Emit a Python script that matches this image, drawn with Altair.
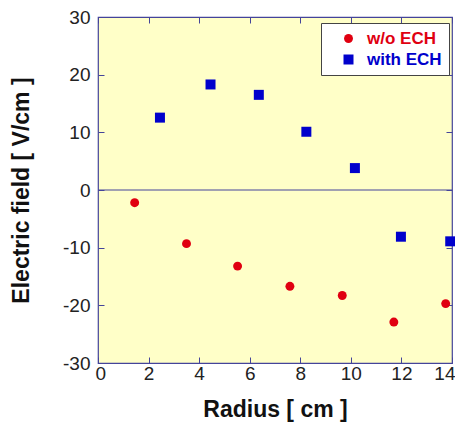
import altair as alt
import pandas as pd

series_names = ["w/o ECH", "with ECH"]
r_wo = [1.45, 3.5, 5.52, 7.59, 9.66, 11.7, 13.75]
e_wo = [-2.2, -9.3, -13.2, -16.7, -18.3, -22.9, -19.7]
r_with = [2.45, 4.45, 6.36, 8.24, 10.16, 11.98, 13.93]
e_with = [12.55, 18.3, 16.5, 10.1, 3.8, -8.1, -8.9]
x_ticks = [0, 2, 4, 6, 8, 10, 12, 14]
y_ticks = [-30, -20, -10, 0, 10, 20, 30]

df = pd.DataFrame({
    "r": r_wo + r_with,
    "e": e_wo + e_with,
    "series": [series_names[0]] * len(r_wo) + [series_names[1]] * len(r_with),
})

RED = "#E00010"
BLUE = "#0000CC"
FRAME = "#44449A"
FONT = "Liberation Sans"

xscale = alt.Scale(domain=[0, 14], nice=False, zero=False)
yscale = alt.Scale(domain=[-30, 30], nice=False, zero=False)

common_axis = dict(domain=False, grid=False, tickSize=6, offset=-6,
                   tickColor=FRAME, tickWidth=1)

points = alt.Chart(df).mark_point(filled=True, opacity=1).encode(
    x=alt.X("r:Q", scale=xscale,
            axis=alt.Axis(orient="bottom", values=x_ticks, title="Radius [ cm ]",
                          labelExpr="'' + datum.value",
                          labelFlush=True, labelFlushOffset=3,
                          labelPadding=1, titlePadding=15, **common_axis)),
    y=alt.Y("e:Q", scale=yscale,
            axis=alt.Axis(orient="left", values=y_ticks, title="Electric field [ V/cm ]",
                          labelExpr="'' + datum.value", labelFlush=False,
                          labelPadding=8, titlePadding=29, **common_axis)),
    color=alt.Color("series:N",
                    scale=alt.Scale(domain=series_names, range=[RED, BLUE]),
                    legend=alt.Legend(
                        title=None, orient="none", legendX=223, legendY=6,
                        fillColor="white", strokeColor="#444444", padding=7,
                        labelFont=FONT, labelFontSize=17, labelFontWeight="bold",
                        labelColor={"expr": f"datum.label == '{series_names[0]}' ? '{RED}' : '{BLUE}'"},
                        symbolSize=90, symbolOffset=12, labelOffset=10, rowPadding=3,
                        symbolStrokeWidth=0)),
    shape=alt.Shape("series:N",
                    scale=alt.Scale(domain=series_names, range=["circle", "square"])),
    size=alt.Size("series:N",
                  scale=alt.Scale(domain=series_names, range=[80, 100]), legend=None),
)

zero_df = pd.DataFrame({"x0": [x_ticks[0]], "x1": [x_ticks[-1]], "y0": [0]})
zero = alt.Chart(zero_df).mark_rule(color=FRAME, strokeWidth=1).encode(
    x=alt.X("x0:Q", scale=xscale,
            axis=alt.Axis(orient="top", values=x_ticks, labels=False, title=None, **common_axis)),
    x2="x1:Q",
    y=alt.Y("y0:Q", scale=yscale,
            axis=alt.Axis(orient="right", values=y_ticks, labels=False, title=None, **common_axis)),
)

chart = alt.layer(points, zero).resolve_axis(x="independent", y="independent").properties(
    width=354, height=346,
    padding={"left": 90, "top": 9, "right": 3, "bottom": 65},
    autosize="none",
    background="white",
).configure_view(
    fill="#FFFFC8", stroke=FRAME, strokeWidth=1.2
).configure_axis(
    labelFont=FONT, labelFontSize=19, labelColor="#222222",
    titleFont=FONT, titleFontSize=23, titleFontWeight="bold", titleColor="#111111",
)

chart.save("out.html", embed_options={"renderer": "svg", "actions": False})
